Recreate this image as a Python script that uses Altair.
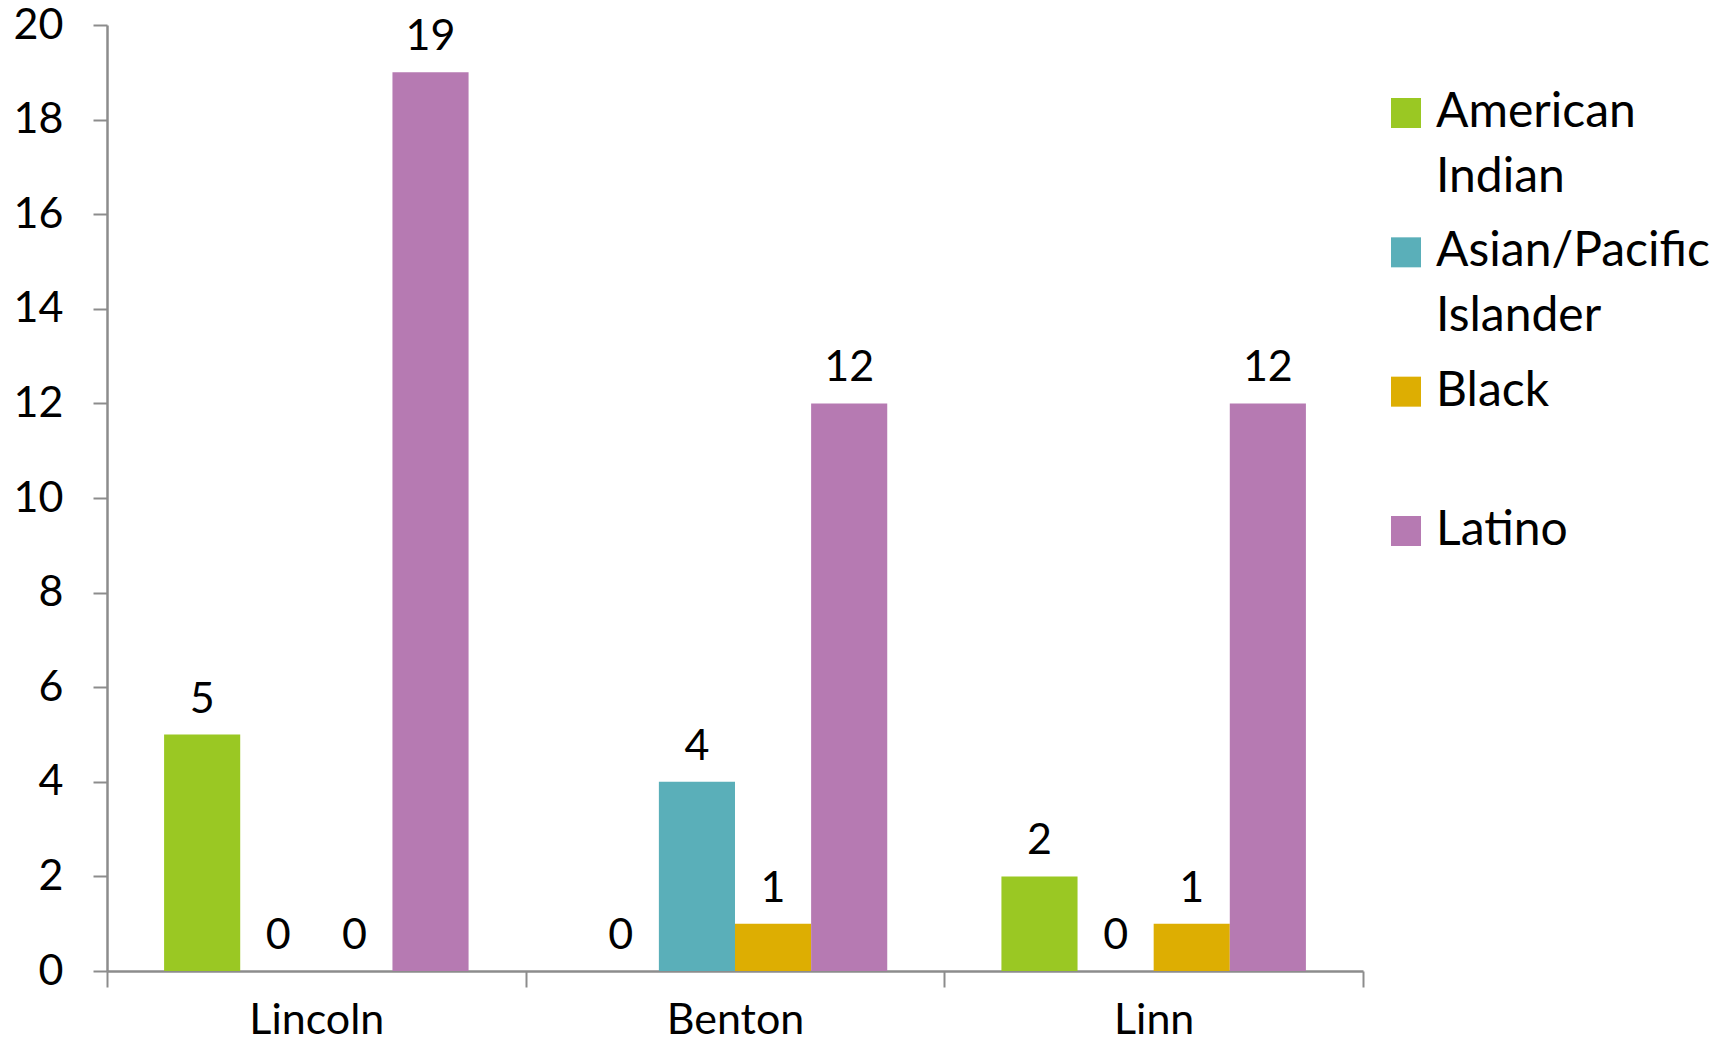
import altair as alt
import pandas as pd

counties = ["Lincoln", "Benton", "Linn"]
groups = ["American Indian", "Asian/Pacific Islander", "Black", "Latino"]
american_indian = [5, 0, 2]
asian_pacific = [0, 4, 0]
black = [0, 1, 1]
latino = [19, 12, 12]
colors = ["#9AC823", "#5AAFB9", "#DDAE02", "#B67AB2"]
y_ticks = [0, 2, 4, 6, 8, 10, 12, 14, 16, 18, 20]
legend_line1 = ["American", "Asian/Pacific", "Black", "Latino"]
legend_line2 = ["Indian", "Islander", "", ""]

rows = []
for name, vals in zip(groups, [american_indian, asian_pacific, black, latino]):
    for c, v in zip(counties, vals):
        rows.append({"county": c, "group": name, "value": v})
df = pd.DataFrame(rows)
leg_df = pd.DataFrame({"group": groups, "line1": legend_line1, "line2": legend_line2})

W, H = 1256, 946
FONT = "Lato"
GRAY = "#8C8C8C"
no_view = alt.ViewBackground(stroke="transparent", strokeWidth=0)

x = alt.X(
    "county:N", sort=counties,
    scale=alt.Scale(paddingInner=0, paddingOuter=0),
    axis=alt.Axis(title=None, labelAngle=0, tickBand="extent", labelFont=FONT,
                  labelFontSize=43, labelColor="black", labelPadding=12,
                  tickSize=16, tickColor=GRAY, tickWidth=2, domainColor=GRAY,
                  domainWidth=2.5, grid=False),
)
xo = alt.XOffset("group:N", sort=groups,
                 scale=alt.Scale(paddingInner=0, paddingOuter=0.75))
y = alt.Y(
    "value:Q", scale=alt.Scale(domain=[0, 20], nice=False),
    axis=alt.Axis(title=None, values=y_ticks, grid=False, labelFont=FONT,
                  labelFontSize=43, labelColor="black", labelPadding=30,
                  tickSize=14, tickColor=GRAY, tickWidth=2, domainColor=GRAY,
                  domainWidth=2.5),
)
color = alt.Color("group:N", sort=groups,
                  scale=alt.Scale(domain=groups, range=colors), legend=None)

bars = alt.Chart(df).mark_bar().encode(x=x, xOffset=xo, y=y, color=color)
texts = alt.Chart(df).mark_text(
    baseline="alphabetic", dy=-22, font=FONT, fontSize=43, color="black"
).encode(x=x, xOffset=xo, y=y, text="value:Q")
main = alt.layer(bars, texts)

# legend drawn as its own layer
ly = alt.Y("group:N", sort=groups, axis=None,
           scale=alt.Scale(type="point", range=[88, 506], padding=0))
leg_sq = alt.Chart(leg_df).mark_square(size=900, opacity=1, strokeWidth=0).encode(
    x=alt.value(1299), y=ly, color=color)
leg_t1 = alt.Chart(leg_df).mark_text(
    align="left", baseline="middle", font=FONT, fontSize=48, color="black"
).encode(x=alt.value(1329), y=ly, text="line1:N")
leg_t2 = alt.Chart(leg_df).mark_text(
    align="left", baseline="middle", dy=65, font=FONT, fontSize=48, color="black"
).encode(x=alt.value(1329), y=ly, text="line2:N")
legend = alt.layer(leg_sq, leg_t1, leg_t2)

chart = (
    alt.layer(main, legend)
    .resolve_scale(y="independent")
    .properties(width=W, height=H, view=no_view,
                autosize=alt.AutoSizeParams(type="none"),
                padding={"left": 99, "top": 17, "right": 352, "bottom": 70})
    .configure_view(strokeWidth=0, stroke="transparent")
    .configure_axis(grid=False)
    .configure(background="white")
)

chart.save("out.html", embed_options={"renderer": "svg", "actions": False})
